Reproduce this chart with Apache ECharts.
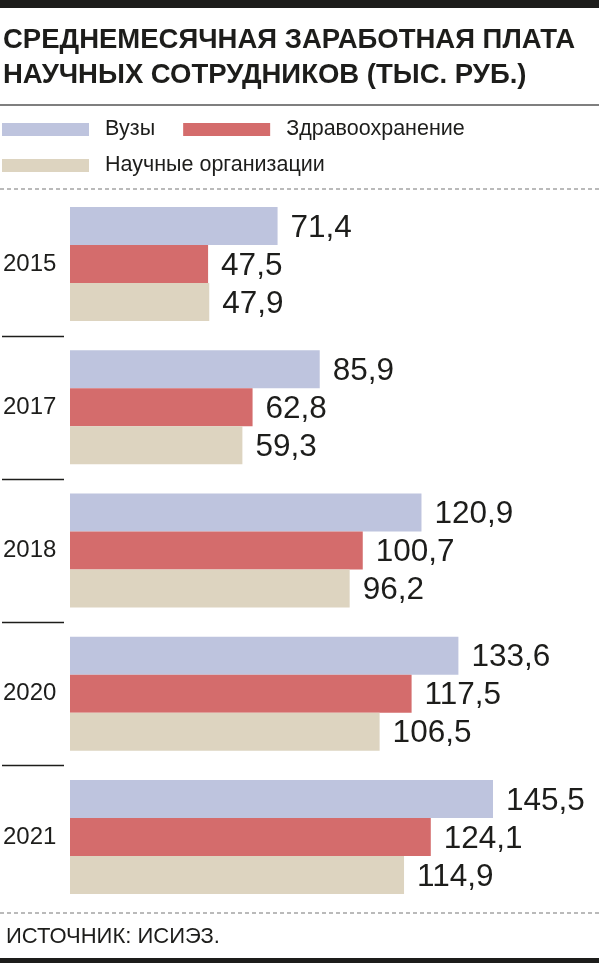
<!DOCTYPE html>
<html>
<head>
<meta charset="utf-8">
<script src="https://cdn.jsdelivr.net/npm/echarts@6/dist/echarts.min.js"></script>
<style>
  html, body { margin: 0; padding: 0; background: #fff; }
  #chart { width: 599px; height: 963px; }
</style>
</head>
<body>
<div id="chart"></div>
<script>
// данные с картинки
const years = ['2015', '2017', '2018', '2020', '2021'];
const seriesNames = ['Вузы', 'Здравоохранение', 'Научные организации'];
const vuzy = [71.4, 85.9, 120.9, 133.6, 145.5];
const zdrav = [47.5, 62.8, 100.7, 117.5, 124.1];
const nauch = [47.9, 59.3, 96.2, 106.5, 114.9];
const colors = ['#bec4de', '#d46c6c', '#ddd4c0'];

const font = '"Liberation Sans", "Roboto", sans-serif';
const ink = '#1d1d1b';

const chart = echarts.init(document.getElementById('chart'));

function makeSeries(name, data, color) {
    return {
        name: name,
        type: 'bar',
        data: data,
        barWidth: 38,
        barGap: '0%',
        itemStyle: { color: color },
        label: {
            show: true,
            position: 'right',
            distance: 13,
            offset: [0, 2],
            color: ink,
            fontFamily: font,
            fontSize: 31.5,
            formatter: p => p.value.toFixed(1).replace('.', ',')
        },
        emphasis: { disabled: true }
    };
}

const legendText = {
    color: ink,
    fontFamily: font,
    fontSize: 21.5,
    padding: [0, 0, 0, 11]
};

const option = {
    animation: false,
    color: colors,
    title: [{
        text: 'СРЕДНЕМЕСЯЧНАЯ ЗАРАБОТНАЯ ПЛАТА\nНАУЧНЫХ СОТРУДНИКОВ (ТЫС. РУБ.)',
        left: 3,
        top: 23,
        padding: 0,
        textStyle: {
            color: ink,
            fontFamily: font,
            fontWeight: 'bold',
            fontSize: 27.5,
            lineHeight: 35
        }
    }, {
        text: 'ИСТОЧНИК: ИСИЭЗ.',
        left: 6,
        top: 925,
        padding: 0,
        textStyle: {
            color: ink,
            fontFamily: font,
            fontWeight: 'normal',
            fontSize: 22,
            lineHeight: 24
        }
    }],
    legend: [{
        data: [seriesNames[0], seriesNames[1]],
        left: 2,
        top: 118.5,
        padding: 0,
        itemGap: 28,
        itemWidth: 87,
        itemHeight: 13,
        icon: 'rect',
        selectedMode: false,
        textStyle: legendText
    }, {
        data: [seriesNames[2]],
        left: 2,
        top: 154.5,
        padding: 0,
        itemWidth: 87,
        itemHeight: 13,
        icon: 'rect',
        selectedMode: false,
        textStyle: legendText
    }],
    grid: {
        left: 70,
        top: 192.4,
        height: 716.25,
        width: 523.3,
        containLabel: false
    },
    xAxis: {
        type: 'value',
        min: 0,
        max: 180,
        show: false
    },
    yAxis: {
        type: 'category',
        data: years,
        inverse: true,
        axisLine: { show: false },
        axisTick: { show: false },
        splitLine: { show: false },
        axisLabel: {
            align: 'left',
            margin: 67,
            padding: [4, 0, 0, 0],
            color: ink,
            fontFamily: font,
            fontSize: 24
        }
    },
    series: [
        makeSeries(seriesNames[0], vuzy, colors[0]),
        makeSeries(seriesNames[1], zdrav, colors[1]),
        makeSeries(seriesNames[2], nauch, colors[2])
    ]
};

chart.setOption(option);

// рамка: полосы сверху/снизу, линии под заголовком и легендой
const decor = [
    { type: 'rect', shape: { x: 0, y: 0, width: 599, height: 8 }, style: { fill: ink } },
    { type: 'rect', shape: { x: 0, y: 958, width: 599, height: 5 }, style: { fill: ink } },
    { type: 'line', shape: { x1: 0, y1: 105, x2: 599, y2: 105 }, style: { stroke: '#555', lineWidth: 1.5 } },
    { type: 'line', shape: { x1: 0, y1: 189, x2: 599, y2: 189 }, style: { stroke: '#777', lineWidth: 1.2, lineDash: [4, 3] } },
    { type: 'line', shape: { x1: 0, y1: 913, x2: 599, y2: 913 }, style: { stroke: '#777', lineWidth: 1.2, lineDash: [4, 3] } }
];

// короткие разделители между годами, по шкале категорий
for (let i = 1; i < years.length; i++) {
    const yPrev = chart.convertToPixel({ yAxisIndex: 0 }, years[i - 1]);
    const yCur = chart.convertToPixel({ yAxisIndex: 0 }, years[i]);
    const y = Math.round((yPrev + yCur) / 2) + 0.5;
    decor.push({
        type: 'line',
        shape: { x1: 2, y1: y, x2: 64, y2: y },
        style: { stroke: ink, lineWidth: 1.5 }
    });
}

chart.setOption({ graphic: decor });
</script>
</body>
</html>
